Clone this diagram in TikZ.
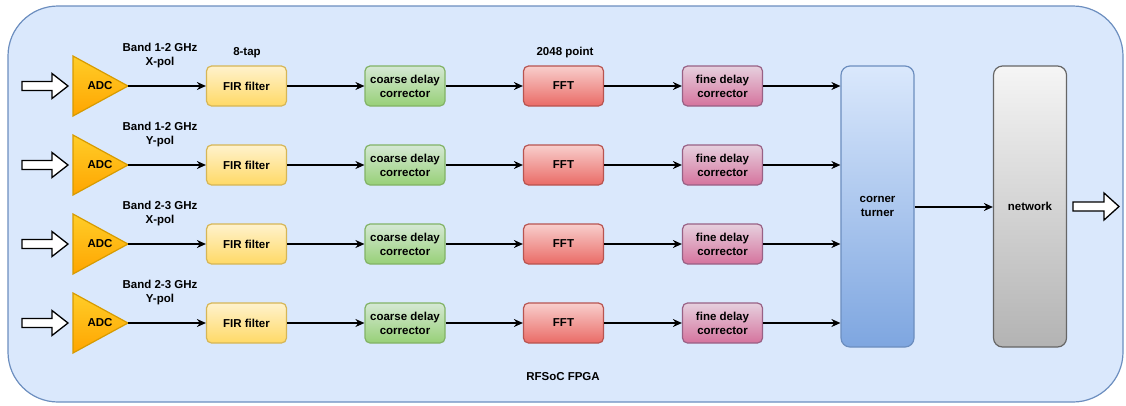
\documentclass[tikz,border=0pt]{standalone}
\usepackage{fontspec}
\setmainfont{Liberation Sans}
\usetikzlibrary{arrows.meta}
\definecolor{contF}{HTML}{DAE8FC}
\definecolor{contB}{HTML}{6C8EBF}
\definecolor{adcT}{HTML}{FFCD28}
\definecolor{adcB}{HTML}{FFA500}
\definecolor{adcD}{HTML}{D79B00}
\definecolor{firT}{HTML}{FFF2CC}
\definecolor{firB}{HTML}{FFD966}
\definecolor{firD}{HTML}{D6B656}
\definecolor{coT}{HTML}{D5E8D4}
\definecolor{coB}{HTML}{97D077}
\definecolor{coD}{HTML}{82B366}
\definecolor{fftT}{HTML}{F8CECC}
\definecolor{fftB}{HTML}{EA6B66}
\definecolor{fftD}{HTML}{B85450}
\definecolor{fiT}{HTML}{E6D0DE}
\definecolor{fiB}{HTML}{D5739D}
\definecolor{fiD}{HTML}{996185}
\definecolor{ctT}{HTML}{DAE8FC}
\definecolor{ctB}{HTML}{7EA6E0}
\definecolor{ctD}{HTML}{6C8EBF}
\definecolor{nwT}{HTML}{F5F5F5}
\definecolor{nwB}{HTML}{B3B3B3}
\definecolor{nwD}{HTML}{666666}
\begin{document}
\begin{tikzpicture}[x=1pt,y=-1pt,
  font=\fontsize{11.5}{14}\selectfont\bfseries,
  blk/.style={rounded corners=5pt, line width=1.2pt, minimum width=80pt, minimum height=40pt, align=center, inner sep=0pt},
  firbox/.style={blk, draw=firD, top color=firT, bottom color=firB},
  cobox/.style={blk, draw=coD, top color=coT, bottom color=coB},
  fftbox/.style={blk, draw=fftD, top color=fftT, bottom color=fftB},
  fibox/.style={blk, draw=fiD, top color=fiT, bottom color=fiB},
  tallbox/.style={rounded corners=9pt, line width=1.2pt, minimum width=73pt, minimum height=281pt, align=center, inner sep=0pt},
  conn/.style={line width=1.2pt, -{Stealth[length=9pt,width=8pt]}},
  blockarrow/.style={draw=black, fill=white, line width=1.3pt, line join=miter},
  lbl/.style={align=center, inner sep=0pt}
]
\useasboundingbox (0,0) rectangle (1126,405);
% container
\draw[draw=contB, fill=contF, line width=1.2pt, rounded corners=50pt] (8,6) rectangle (1123,402);
\node[lbl] (fpga) at (563,377) {RFSoC FPGA};

% tall boxes
\node[tallbox, draw=ctD, top color=ctT, bottom color=ctB] (ct) at (877.5,206.5) {corner\\turner};
\node[tallbox, draw=nwD, top color=nwT, bottom color=nwB] (nw) at (1030,206.5) {network};
\draw[conn] (ct.east |- 0,207) -- (nw.west |- 0,207);

% output block arrow
\draw[blockarrow] (1073,202) -- (1104,202) -- (1104,193) -- (1119,206.5) -- (1104,220) -- (1104,211) -- (1073,211) -- cycle;

\node[lbl] (tap) at (247,53) {8-tap};
\node[lbl] (pt) at (565,53) {2048 point};

\foreach \i/\y/\band/\pol in {1/86/1-2/X,2/165/1-2/Y,3/244/2-3/X,4/323/2-3/Y}{
  % input block arrow
  \draw[blockarrow] (22,\y-4.5) -- (52,\y-4.5) -- (52,\y-12.5) -- (68,\y) -- (52,\y+12.5) -- (52,\y+4.5) -- (22,\y+4.5) -- cycle;
  % ADC triangle
  \draw[draw=adcD, top color=adcT, bottom color=adcB, line width=1.2pt, line join=miter] (73,\y-30) -- (128,\y) -- (73,\y+30) -- cycle;
  \coordinate (adc\i) at (128,\y);
  \node[lbl] (adct\i) at (100,\y) {ADC};
  \node[lbl] (band\i) at (160,\y-30) {Band \band{} GHz\\\pol-pol};
  \node[firbox] (fir\i) at (246.5,\y) {FIR filter};
  \node[cobox] (co\i) at (405,\y) {coarse delay\\corrector};
  \node[fftbox] (fft\i) at (563.5,\y) {FFT};
  \node[fibox] (fi\i) at (722.5,\y) {fine delay\\corrector};
  \draw[conn] (adc\i) -- (fir\i.west);
  \draw[conn] (fir\i.east) -- (co\i.west);
  \draw[conn] (co\i.east) -- (fft\i.west);
  \draw[conn] (fft\i.east) -- (fi\i.west);
  \draw[conn] (fi\i.east) -- (ct.west |- 0,\y);
}
\end{tikzpicture}
\end{document}
